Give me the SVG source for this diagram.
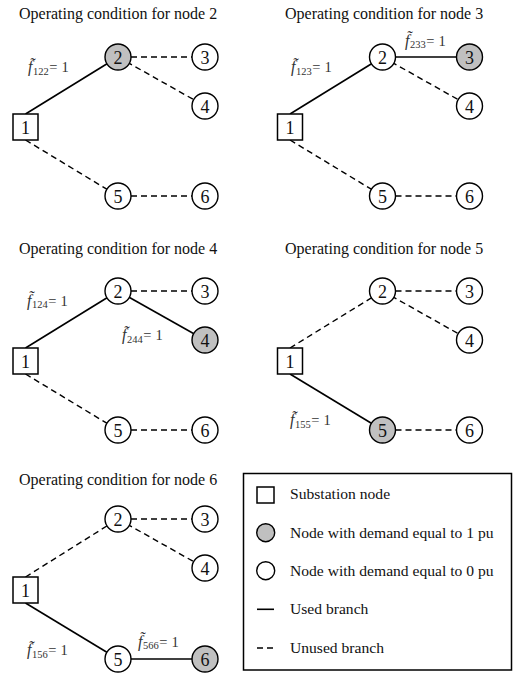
<svg xmlns="http://www.w3.org/2000/svg" width="517" height="688" viewBox="0 0 517 688">
<style>
.title{font-family:"Liberation Serif","Times New Roman",serif;font-size:16px;fill:#111}
.num{font-family:"Liberation Serif","Times New Roman",serif;font-size:18px;fill:#111;text-anchor:middle}
.nd{fill:#fff;stroke:#000;stroke-width:1.4}
.dm{fill:#c0c0c0;stroke:#000;stroke-width:1.4}
.sq{fill:#fff;stroke:#000;stroke-width:1.5}
.used{stroke:#000;stroke-width:1.6;fill:none}
.unused{stroke:#000;stroke-width:1.4;fill:none;stroke-dasharray:6,4}
.lbl{font-family:"Liberation Serif","Times New Roman",serif;font-size:14.5px;fill:#333}
.fi{font-style:italic;font-size:16px}
.sub{font-size:10.5px}
.leg{font-family:"Liberation Serif","Times New Roman",serif;font-size:15.6px;fill:#111}
</style>

<!-- Panel 1 -->
<text class="title" x="19" y="18.5">Operating condition for node 2</text>
<g id="p1-edges">
<line class="used" x1="25.5" y1="114" x2="118" y2="57"/>
<line class="unused" x1="131" y1="57" x2="192" y2="57"/>
<line class="unused" x1="118" y1="57" x2="205" y2="106"/>
<line class="unused" x1="25.5" y1="140" x2="118" y2="196"/>
<line class="unused" x1="131" y1="196" x2="192" y2="196"/>
</g>
<g id="p1-n1"><rect class="sq" x="13" y="114" width="25" height="26"/><text class="num" x="25.5" y="133.5">1</text></g>
<g id="p1-n2"><circle class="dm" cx="118" cy="57" r="13"/><text class="num" x="118" y="63.5">2</text></g>
<g id="p1-n3"><circle class="nd" cx="205" cy="57" r="13"/><text class="num" x="205" y="63.5">3</text></g>
<g id="p1-n4"><circle class="nd" cx="205" cy="106" r="13"/><text class="num" x="205" y="112.5">4</text></g>
<g id="p1-n5"><circle class="nd" cx="118" cy="196" r="13"/><text class="num" x="118" y="202.5">5</text></g>
<g id="p1-n6"><circle class="nd" cx="205" cy="196" r="13"/><text class="num" x="205" y="202.5">6</text></g>
<g id="p1-lbl"><text class="lbl" x="28" y="72"><tspan class="fi">f̃</tspan><tspan class="sub" dx="0.5" dy="2.5">122</tspan><tspan dy="-2.5" dx="0.5">=</tspan><tspan dx="4">1</tspan></text></g>

<!-- Panel 2 -->
<text class="title" x="285" y="18.5">Operating condition for node 3</text>
<g id="p2-edges">
<line class="used" x1="290" y1="114" x2="382.5" y2="57"/>
<line class="used" x1="382.5" y1="57" x2="469.5" y2="57"/>
<line class="unused" x1="382.5" y1="57" x2="469.5" y2="106"/>
<line class="unused" x1="290" y1="140" x2="382.5" y2="196"/>
<line class="unused" x1="395.5" y1="196" x2="456.5" y2="196"/>
</g>
<g id="p2-n1"><rect class="sq" x="277.5" y="114" width="25" height="26"/><text class="num" x="290" y="133.5">1</text></g>
<g id="p2-n2"><circle class="nd" cx="382.5" cy="57" r="13"/><text class="num" x="382.5" y="63.5">2</text></g>
<g id="p2-n3"><circle class="dm" cx="469.5" cy="57" r="13"/><text class="num" x="469.5" y="63.5">3</text></g>
<g id="p2-n4"><circle class="nd" cx="469.5" cy="106" r="13"/><text class="num" x="469.5" y="112.5">4</text></g>
<g id="p2-n5"><circle class="nd" cx="382.5" cy="196" r="13"/><text class="num" x="382.5" y="202.5">5</text></g>
<g id="p2-n6"><circle class="nd" cx="469.5" cy="196" r="13"/><text class="num" x="469.5" y="202.5">6</text></g>
<g id="p2-lbl1"><text class="lbl" x="291" y="72"><tspan class="fi">f̃</tspan><tspan class="sub" dx="0.5" dy="2.5">123</tspan><tspan dy="-2.5" dx="0.5">=</tspan><tspan dx="4">1</tspan></text></g>
<g id="p2-lbl2"><text class="lbl" x="405" y="45.5"><tspan class="fi">f̃</tspan><tspan class="sub" dx="0.5" dy="2.5">233</tspan><tspan dy="-2.5" dx="0.5">=</tspan><tspan dx="4">1</tspan></text></g>

<!-- Panel 3 -->
<text class="title" x="19" y="253.5">Operating condition for node 4</text>
<g id="p3-edges">
<line class="used" x1="25.5" y1="348" x2="118" y2="291"/>
<line class="unused" x1="131" y1="291" x2="192" y2="291"/>
<line class="used" x1="118" y1="291" x2="205" y2="340"/>
<line class="unused" x1="25.5" y1="374" x2="118" y2="430"/>
<line class="unused" x1="131" y1="430" x2="192" y2="430"/>
</g>
<g id="p3-n1"><rect class="sq" x="13" y="348" width="25" height="26"/><text class="num" x="25.5" y="367.5">1</text></g>
<g id="p3-n2"><circle class="nd" cx="118" cy="291" r="13"/><text class="num" x="118" y="297.5">2</text></g>
<g id="p3-n3"><circle class="nd" cx="205" cy="291" r="13"/><text class="num" x="205" y="297.5">3</text></g>
<g id="p3-n4"><circle class="dm" cx="205" cy="340" r="13"/><text class="num" x="205" y="346.5">4</text></g>
<g id="p3-n5"><circle class="nd" cx="118" cy="430" r="13"/><text class="num" x="118" y="436.5">5</text></g>
<g id="p3-n6"><circle class="nd" cx="205" cy="430" r="13"/><text class="num" x="205" y="436.5">6</text></g>
<g id="p3-lbl1"><text class="lbl" x="27" y="305.5"><tspan class="fi">f̃</tspan><tspan class="sub" dx="0.5" dy="2.5">124</tspan><tspan dy="-2.5" dx="0.5">=</tspan><tspan dx="4">1</tspan></text></g>
<g id="p3-lbl2"><text class="lbl" x="122" y="340"><tspan class="fi">f̃</tspan><tspan class="sub" dx="0.5" dy="2.5">244</tspan><tspan dy="-2.5" dx="0.5">=</tspan><tspan dx="4">1</tspan></text></g>

<!-- Panel 4 -->
<text class="title" x="285" y="253.5">Operating condition for node 5</text>
<g id="p4-edges">
<line class="unused" x1="290" y1="348" x2="382.5" y2="291"/>
<line class="unused" x1="395.5" y1="291" x2="456.5" y2="291"/>
<line class="unused" x1="382.5" y1="291" x2="469.5" y2="340"/>
<line class="used" x1="290" y1="374" x2="382.5" y2="430"/>
<line class="unused" x1="395.5" y1="430" x2="456.5" y2="430"/>
</g>
<g id="p4-n1"><rect class="sq" x="277.5" y="348" width="25" height="26"/><text class="num" x="290" y="367.5">1</text></g>
<g id="p4-n2"><circle class="nd" cx="382.5" cy="291" r="13"/><text class="num" x="382.5" y="297.5">2</text></g>
<g id="p4-n3"><circle class="nd" cx="469.5" cy="291" r="13"/><text class="num" x="469.5" y="297.5">3</text></g>
<g id="p4-n4"><circle class="nd" cx="469.5" cy="340" r="13"/><text class="num" x="469.5" y="346.5">4</text></g>
<g id="p4-n5"><circle class="dm" cx="382.5" cy="430" r="13"/><text class="num" x="382.5" y="436.5">5</text></g>
<g id="p4-n6"><circle class="nd" cx="469.5" cy="430" r="13"/><text class="num" x="469.5" y="436.5">6</text></g>
<g id="p4-lbl"><text class="lbl" x="290" y="425"><tspan class="fi">f̃</tspan><tspan class="sub" dx="0.5" dy="2.5">155</tspan><tspan dy="-2.5" dx="0.5">=</tspan><tspan dx="4">1</tspan></text></g>

<!-- Panel 5 -->
<text class="title" x="19" y="485">Operating condition for node 6</text>
<g id="p5-edges">
<line class="unused" x1="25.5" y1="577" x2="118" y2="519"/>
<line class="unused" x1="131" y1="519" x2="192" y2="519"/>
<line class="unused" x1="118" y1="519" x2="205" y2="568"/>
<line class="used" x1="25.5" y1="603" x2="118" y2="659"/>
<line class="used" x1="118" y1="659" x2="205" y2="659" stroke-width="2"/>
</g>
<g id="p5-n1"><rect class="sq" x="13" y="577" width="25" height="26"/><text class="num" x="25.5" y="596.5">1</text></g>
<g id="p5-n2"><circle class="nd" cx="118" cy="519" r="13"/><text class="num" x="118" y="525.5">2</text></g>
<g id="p5-n3"><circle class="nd" cx="205" cy="519" r="13"/><text class="num" x="205" y="525.5">3</text></g>
<g id="p5-n4"><circle class="nd" cx="205" cy="568" r="13"/><text class="num" x="205" y="574.5">4</text></g>
<g id="p5-n5"><circle class="nd" cx="118" cy="659" r="13"/><text class="num" x="118" y="665.5">5</text></g>
<g id="p5-n6"><circle class="dm" cx="205" cy="659" r="13"/><text class="num" x="205" y="665.5">6</text></g>
<g id="p5-lbl1"><text class="lbl" x="27" y="655"><tspan class="fi">f̃</tspan><tspan class="sub" dx="0.5" dy="2.5">156</tspan><tspan dy="-2.5" dx="0.5">=</tspan><tspan dx="4">1</tspan></text></g>
<g id="p5-lbl2"><text class="lbl" x="138" y="646.5"><tspan class="fi">f̃</tspan><tspan class="sub" dx="0.5" dy="2.5">566</tspan><tspan dy="-2.5" dx="0.5">=</tspan><tspan dx="4">1</tspan></text></g>

<!-- Legend -->
<g id="legend">
<rect x="243.5" y="473.5" width="268" height="196.5" fill="#fff" stroke="#000" stroke-width="1.5"/>
<rect class="sq" x="257" y="487" width="17" height="16"/>
<text class="leg" x="290" y="499">Substation node</text>
<circle class="dm" cx="265.7" cy="532.7" r="9"/>
<text class="leg" x="290" y="537.7">Node with demand equal to 1 pu</text>
<circle class="nd" cx="265.7" cy="570.7" r="9"/>
<text class="leg" x="290" y="576">Node with demand equal to 0 pu</text>
<line class="used" x1="257" y1="609.3" x2="274" y2="609.3"/>
<text class="leg" x="290" y="614.3">Used branch</text>
<line class="unused" x1="257" y1="648" x2="274" y2="648" stroke-dasharray="6,5"/>
<text class="leg" x="290" y="652.7">Unused branch</text>
</g>
</svg>
